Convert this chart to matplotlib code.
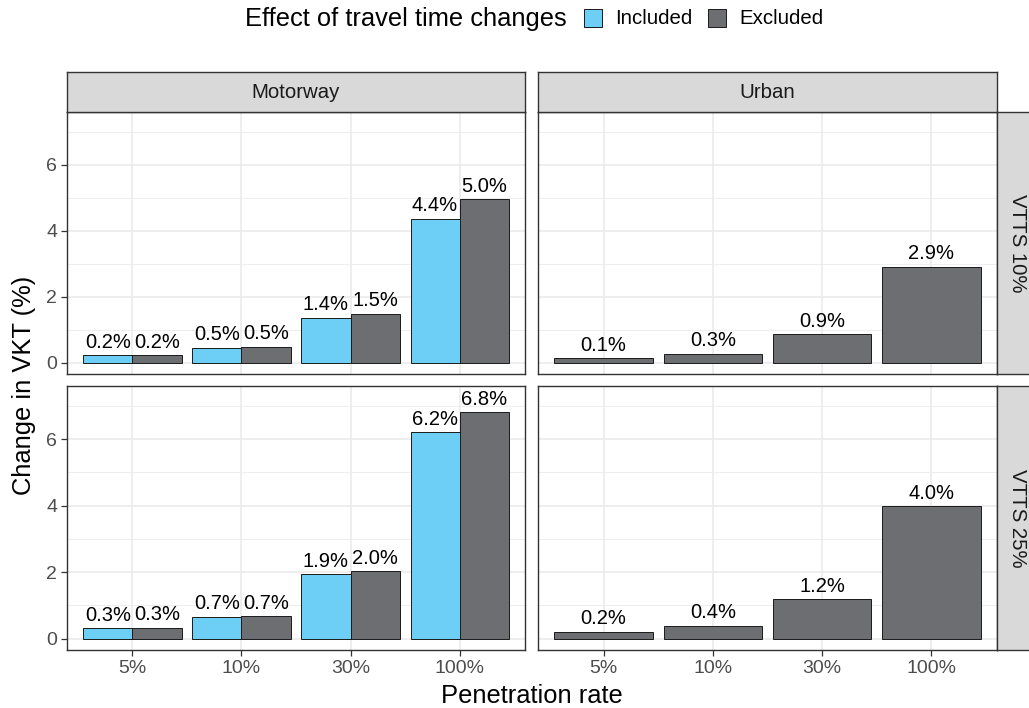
import numpy as np
import matplotlib
matplotlib.use("Agg")
import matplotlib.pyplot as plt
from matplotlib.patches import Rectangle

plt.rcParams['font.family'] = ['Liberation Sans', 'DejaVu Sans']

# ---- data ----
rates = ["5%", "10%", "30%", "100%"]
roads = ["Motorway", "Urban"]
vtts = ["VTTS 10%", "VTTS 25%"]

motorway_vtts10_included = [0.23, 0.46, 1.37, 4.37]
motorway_vtts10_excluded = [0.23, 0.48, 1.48, 4.96]
motorway_vtts25_included = [0.32, 0.66, 1.94, 6.21]
motorway_vtts25_excluded = [0.33, 0.68, 2.03, 6.81]
urban_vtts10_excluded = [0.13, 0.28, 0.87, 2.91]
urban_vtts25_excluded = [0.21, 0.39, 1.19, 3.98]

y_ticks = [0, 2, 4, 6]
y_minor = [1, 3, 5, 7]

# ---- styling ----
COL_INC = "#6DCFF6"
COL_EXC = "#6D6E71"
BORDER = "#333333"
GRID = "#EBEBEB"
STRIP = "#D9D9D9"
TICKCOL = "#4D4D4D"

FS_LABEL = 14.5
FS_TICK = 14
FS_STRIP = 14.7
FS_TITLE = 18.4

W, H, DPI = 1029, 708, 100
fig = plt.figure(figsize=(W / DPI, H / DPI), dpi=DPI)
fig.patch.set_facecolor("white")


def px_axes(x0, y0, x1, y1):
    """Axes from pixel box (top-left origin)."""
    return fig.add_axes([x0 / W, 1 - y1 / H, (x1 - x0) / W, (y1 - y0) / H])


col_x = [(67, 525), (538, 997)]
row_y = [(112, 374), (386, 650)]
ylim = (-0.34, 7.6)
xlim = (0.4, 4.6)

data = {
    (0, 0): (motorway_vtts10_included, motorway_vtts10_excluded),
    (0, 1): (None, urban_vtts10_excluded),
    (1, 0): (motorway_vtts25_included, motorway_vtts25_excluded),
    (1, 1): (None, urban_vtts25_excluded),
}

xpos = np.arange(1, len(rates) + 1)


def value_labels(ax, xs, vals):
    for x, v in zip(xs, vals):
        ax.annotate(f"{v:.1f}%", (x, v), xytext=(0, 2.5), textcoords="offset points",
                    ha="center", va="bottom", fontsize=FS_LABEL, color="black", zorder=3)


for r in range(2):
    for c in range(2):
        ax = px_axes(col_x[c][0], row_y[r][0], col_x[c][1], row_y[r][1])
        ax.set_xlim(*xlim)
        ax.set_ylim(*ylim)
        ax.set_facecolor("white")
        for y in y_minor:
            ax.axhline(y, color=GRID, lw=0.6, zorder=0)
        for y in y_ticks:
            ax.axhline(y, color=GRID, lw=1.2, zorder=0)
        for x in xpos:
            ax.axvline(x, color=GRID, lw=1.2, zorder=0)

        inc, exc = data[(r, c)]
        if inc is not None:
            w = 0.45
            ax.bar(xpos - w / 2, inc, width=w, color=COL_INC, edgecolor="#1A1A1A",
                   lw=0.7, zorder=2)
            ax.bar(xpos + w / 2, exc, width=w, color=COL_EXC, edgecolor="#1A1A1A",
                   lw=0.7, zorder=2)
            value_labels(ax, xpos - w / 2, inc)
            value_labels(ax, xpos + w / 2, exc)
        else:
            w = 0.9
            ax.bar(xpos, exc, width=w, color=COL_EXC, edgecolor="#1A1A1A", lw=0.7, zorder=2)
            value_labels(ax, xpos, exc)

        for s in ax.spines.values():
            s.set_color(BORDER)
            s.set_linewidth(1.0)

        ax.tick_params(axis="both", color=BORDER, length=4.5, width=0.9,
                       labelsize=FS_TICK, labelcolor=TICKCOL, pad=2.5)
        ax.set_yticks(y_ticks)
        ax.set_xticks(xpos)
        if c == 0:
            ax.set_yticklabels([str(t) for t in y_ticks])
        else:
            ax.tick_params(axis="y", left=False, labelleft=False)
        if r == 1:
            ax.set_xticklabels(rates)
        else:
            ax.tick_params(axis="x", bottom=False, labelbottom=False)

# top strips
for c in range(2):
    sa = px_axes(col_x[c][0], 72, col_x[c][1], 112)
    sa.set_xticks([]); sa.set_yticks([])
    sa.set_facecolor(STRIP)
    for s in sa.spines.values():
        s.set_color(BORDER); s.set_linewidth(1.0)
    sa.text(0.5, 0.5, roads[c], ha="center", va="center", fontsize=FS_STRIP,
            color="#1A1A1A", transform=sa.transAxes)

# right strips
for r in range(2):
    sa = px_axes(997, row_y[r][0], 1037, row_y[r][1])
    sa.set_xticks([]); sa.set_yticks([])
    sa.set_facecolor(STRIP)
    for s in sa.spines.values():
        s.set_color(BORDER); s.set_linewidth(1.0)
    sa.text(0.5, 0.5, vtts[r], ha="center", va="center", fontsize=FS_STRIP,
            color="#1A1A1A", rotation=-90, transform=sa.transAxes)

# axis titles
fig.text(532 / W, 1 - 696 / H, "Penetration rate", ha="center", va="center",
         fontsize=FS_TITLE)
fig.text(24 / W, 1 - 385 / H, "Change in VKT (%)", ha="center", va="center",
         fontsize=FS_TITLE, rotation=90)

# legend
fig.text(567 / W, 1 - 19 / H, "Effect of travel time changes", ha="right", va="center",
         fontsize=FS_TITLE)
for (x0, label, col) in [(584, "Included", COL_INC), (708, "Excluded", COL_EXC)]:
    fig.patches.append(Rectangle((x0 / W, 1 - 27 / H), 18 / W, 18 / H,
                                 transform=fig.transFigure, facecolor=col,
                                 edgecolor="#1A1A1A", lw=0.7))
    fig.text((x0 + 31) / W, 1 - 18.5 / H, label, ha="left", va="center",
             fontsize=FS_STRIP)

fig.savefig("out.png", dpi=DPI, facecolor="white")
